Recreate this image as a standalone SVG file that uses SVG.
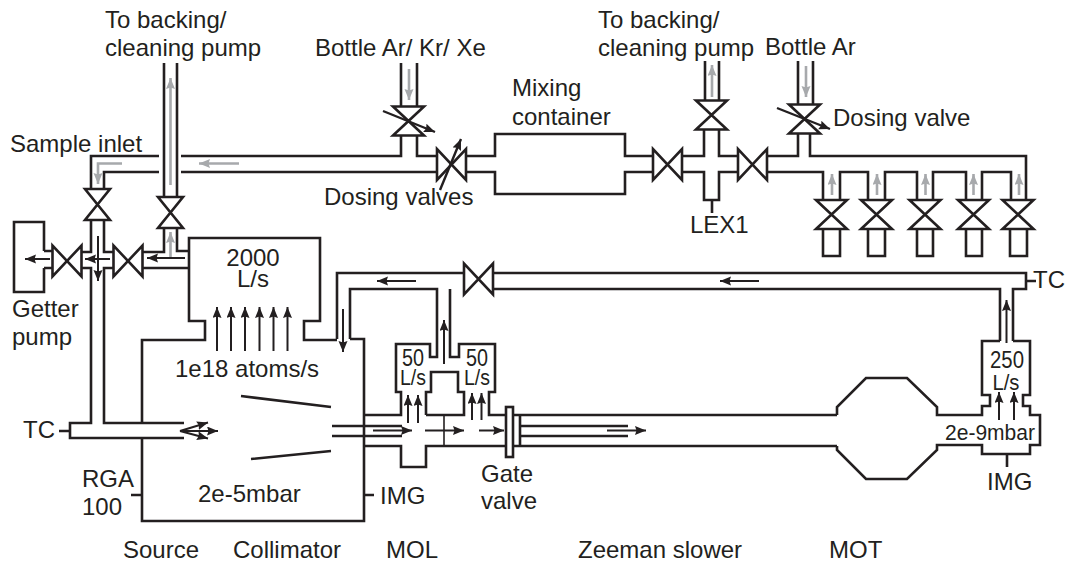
<svg xmlns="http://www.w3.org/2000/svg" width="1066" height="565" viewBox="0 0 1066 565">
<style>
.p{fill:none;stroke:#231f20;stroke-width:2.6;stroke-linejoin:miter}
.a{fill:none;stroke:#231f20;stroke-width:2;marker-end:url(#ab)}
.g{fill:none;stroke:#a7a9ac;stroke-width:2.6;marker-end:url(#ag)}
.d{fill:none;stroke:#231f20;stroke-width:2.4;marker-end:url(#ab)}
text{font-family:"Liberation Sans",Arial,sans-serif;font-size:24px;fill:#231f20}
.m{text-anchor:middle}
</style>
<defs>
<marker id="ab" markerUnits="userSpaceOnUse" markerWidth="12" markerHeight="10" refX="11" refY="4.5" orient="auto"><path d="M0 0L11 4.500L0 9L1.500 4.500Z" fill="#231f20"/></marker>
<marker id="ag" markerUnits="userSpaceOnUse" markerWidth="12" markerHeight="10" refX="11" refY="4.5" orient="auto"><path d="M0 0L11 4.500L0 9L1.500 4.500Z" fill="#a7a9ac"/></marker>
<path id="vv" class="p" d="M-12.5-15.5H12.5L-12.5 15.5H12.5Z"/>
<path id="vv2" class="p" d="M-15.5-14.5H15.5L-15.5 14.5H15.5Z"/>
<path id="vh" class="p" d="M-14.5-15.5V15.5L14.5-15.5V15.5Z"/>
</defs>

<g id="connectors">
<path class="p" d="M164 63V197M177 63V197"/>
<path class="p" d="M104 189V172H159M181 172H437M91 189V156H159M181 156H401V135M417 135V156H437"/>
<path class="p" d="M91 220V252H81M104 220V252H114M81 268H91V423H70V438H184M114 268H104V423H184M44 251H53M44 268H53"/>
<path class="p" d="M142 252H164V228M177 228V251H189M142 268H189"/>
<path class="p" d="M401 63V107M417 63V107"/>
<path class="p" d="M466 156H495V134H625V156H653M466 172H495V194H625V172H653"/>
<path class="p" d="M705 61V101M719 61V101M682 156H704V129M719 129V156H738M682 172H704V200H719V172H738"/>
<path class="p" d="M767 156H798V133M810 133V156H1026V200M798 61V105M813 61V105"/>
<path class="p" d="M767 172H823V200M840 200V172H868V200M885 200V172H917V200M933 200V172H966V200M982 200V172H1011V200"/>
<path class="p" d="M337 339V273H464M350 339V289H437V357H430V344H396V392H401V415H364M450 289V357H459V344H495V392H489V415H506M426 415V392H431V372H458V392H464V415H426M493 273H1026V289H1013V341M493 289H1000V341"/>
<path class="p" d="M364 446H401V467H426V446H506M513 415H837M513 446H837M520 415V446"/>
<path class="p" d="M332 426H402M332 436H402M520 426H628M520 436H628"/>
<path class="p" style="stroke-width:1.6" d="M444 415V446"/>
<path class="p" d="M1000 341H982V395H990V406H982V415H937V407L907 378H866L837 407V415M1013 341H1030V395H1023V406H1030V415H1040V445H1030V454H982V445H937V450L907 479H866L837 450V446"/>
<path class="p" d="M59 431H70M131 495H142M364 495H374M712 200V213M1026 281H1036M1007 454V467"/>
<path class="p" d="M241 396L331 407M251 459L331 451"/>
<path class="g" d="M170.500 185V78"/>
<path class="g" d="M239 163.500H199"/>
<path class="g" d="M122 163.500H98V184"/>
<path class="g" d="M170.500 258V232"/>
<path class="g" d="M409 69V100"/>
<path class="g" d="M712 97V65"/>
<path class="g" d="M806 66V97"/>
<path class="g" d="M832 195V174"/>
<path class="g" d="M877 195V174"/>
<path class="g" d="M925.500 195V174"/>
<path class="g" d="M973.500 195V174"/>
<path class="g" d="M1019 195V174"/>
<path class="a" d="M185 258H147"/>
<path class="a" d="M110 259H85"/>
<path class="a" d="M50 259H25"/>
<path class="a" d="M98 236V281"/>
<path class="a" d="M217 351V307"/><path class="a" d="M231 351V307"/><path class="a" d="M245 351V307"/><path class="a" d="M259.500 351V307"/><path class="a" d="M273.500 351V307"/><path class="a" d="M287.500 351V307"/>
<path class="a" d="M180 431L208 422.500"/>
<path class="a" d="M180 431H218"/>
<path class="a" d="M180 431L208 438.500"/>
<path class="a" d="M343 309V352"/>
<path class="a" d="M416 281H377"/>
<path class="a" d="M759 281H720"/>
<path class="a" d="M373 430.500H412"/>
<path class="a" d="M425 430.500H464"/>
<path class="a" d="M479 430.500H504"/>
<path class="a" d="M607 430.500H646"/>
<path class="a" d="M408 423V395"/><path class="a" d="M418 423V395"/><path class="a" d="M472 420V393"/><path class="a" d="M481.500 420V393"/>
<path class="a" d="M444 364V320"/>
<path class="a" d="M1006.500 343V300"/><path class="a" d="M999 420V392"/><path class="a" d="M1014 420V392"/>
</g>

<g id="chamber"><path class="p" d="M142 423V340H205V321H189V238H320V321H304V340H337M350 339H364V521H142V438"/></g>
<g id="getter-pump"><path class="p" d="M44 251V222H14V292H44V268"/></g>
<g id="gate-valve"><rect class="p" x="506" y="407" width="7" height="50"/></g>

<g id="valve-sample"><use href="#vv" x="97.500" y="204.500"/></g>
<g id="valve-backing-1"><use href="#vv" x="170.500" y="212.500"/></g>
<g id="valve-getter"><use href="#vh" x="67" y="261"/></g>
<g id="valve-cross"><use href="#vh" x="128" y="261"/></g>
<g id="valve-dose-1"><use href="#vv2" x="408.500" y="121"/><path class="d" d="M383 111L435 132"/></g>
<g id="valve-dose-2"><use href="#vh" x="451.500" y="164.500"/><path class="d" d="M440 190L461 139"/></g>
<g id="valve-mix"><use href="#vh" x="667.500" y="164.500"/></g>
<g id="valve-backing-2"><use href="#vv2" x="711.500" y="115"/></g>
<g id="valve-lex"><use href="#vh" x="752.500" y="164.500"/></g>
<g id="valve-dose-3"><use href="#vv2" x="804.500" y="119"/><path class="d" d="M777 108L830 129"/></g>
<g id="valve-line"><use href="#vh" x="478.500" y="279"/></g>
<g id="bottle-1"><use href="#vv2" x="831.500" y="214.500"/><path class="p" d="M823 229V256H840V229"/></g>
<g id="bottle-2"><use href="#vv2" x="876.500" y="214.500"/><path class="p" d="M868 229V256H885V229"/></g>
<g id="bottle-3"><use href="#vv2" x="925" y="214.500"/><path class="p" d="M917 229V256H933V229"/></g>
<g id="bottle-4"><use href="#vv2" x="973.500" y="214.500"/><path class="p" d="M966 229V256H982V229"/></g>
<g id="bottle-5"><use href="#vv2" x="1018" y="214.500"/><path class="p" d="M1010 229V256H1027V229"/></g>

<g id="labels">
<text x="105" y="28">To backing/</text>
<text x="105" y="56">cleaning pump</text>
<text x="10" y="152">Sample inlet</text>
<text x="315" y="56">Bottle Ar/ Kr/ Xe</text>
<text x="512" y="96">Mixing</text>
<text x="512" y="125">container</text>
<text x="324" y="205">Dosing valves</text>
<text x="598" y="28">To backing/</text>
<text x="598" y="56">cleaning pump</text>
<text x="765" y="55">Bottle Ar</text>
<text x="833" y="126">Dosing valve</text>
<text x="690" y="233">LEX1</text>
<text x="12" y="317">Getter</text>
<text x="12" y="345">pump</text>
<text x="23" y="438">TC</text>
<text x="82" y="487">RGA</text>
<text x="82" y="515">100</text>
<text x="175" y="377">1e18 atoms/s</text>
<text x="198" y="502">2e-5mbar</text>
<text x="123" y="558">Source</text>
<text x="233" y="558">Collimator</text>
<text x="386" y="558">MOL</text>
<text x="578" y="558">Zeeman slower</text>
<text x="829" y="558">MOT</text>
<text x="253" y="266" class="m">2000</text>
<text x="253" y="287" class="m">L/s</text>
<text x="413" y="366" class="m" style="font-size:23px" textLength="22" lengthAdjust="spacingAndGlyphs">50</text>
<text x="413" y="385" class="m" style="font-size:22px" textLength="26" lengthAdjust="spacingAndGlyphs">L/s</text>
<text x="477" y="366" class="m" style="font-size:23px" textLength="22" lengthAdjust="spacingAndGlyphs">50</text>
<text x="477" y="385" class="m" style="font-size:22px" textLength="26" lengthAdjust="spacingAndGlyphs">L/s</text>
<text x="380" y="504">IMG</text>
<text x="481" y="482">Gate</text>
<text x="481" y="509">valve</text>
<text x="1033" y="288">TC</text>
<text x="1007" y="368" class="m" style="font-size:23px" textLength="34" lengthAdjust="spacingAndGlyphs">250</text>
<text x="1006" y="390" class="m" style="font-size:22px" textLength="27" lengthAdjust="spacingAndGlyphs">L/s</text>
<text x="945" y="440" style="font-size:22px" textLength="90" lengthAdjust="spacingAndGlyphs">2e-9mbar</text>
<text x="987" y="490">IMG</text>
</g>
</svg>
